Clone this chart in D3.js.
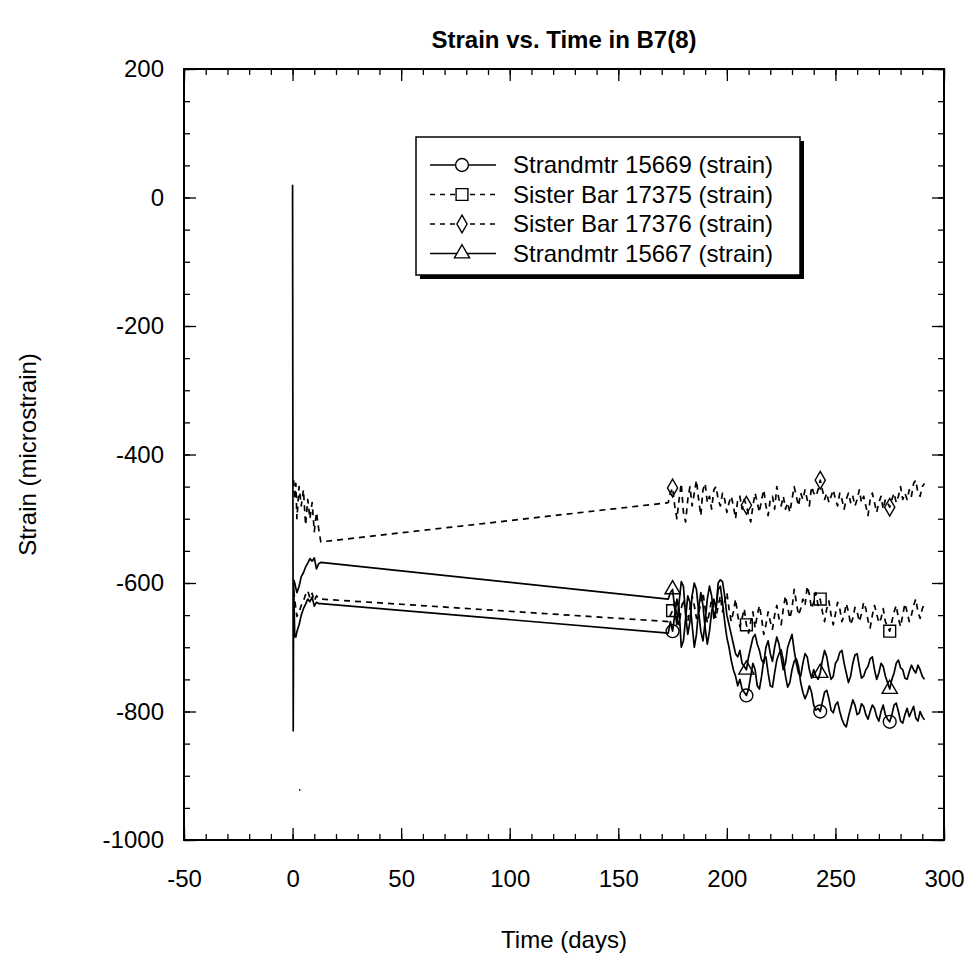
<!DOCTYPE html>
<html>
<head>
<meta charset="utf-8">
<script src="https://cdn.jsdelivr.net/npm/d3@7"></script>
<style>
  body { margin: 0; background: #fff; }
  text { font-family: Arial, "Liberation Sans", sans-serif; fill: #000; }
</style>
</head>
<body>
<svg id="chart" width="976" height="976"></svg>
<script>
// ---- data ----
var xTicks = [-50, 0, 50, 100, 150, 200, 250, 300];
var yTicks = [-1000, -800, -600, -400, -200, 0, 200];
var seriesNames = ["Strandmtr 15669 (strain)", "Sister Bar 17375 (strain)",
                   "Sister Bar 17376 (strain)", "Strandmtr 15667 (strain)"];

// initial spike at day 0 (strandmeter 15669)
var spikeDays = [0, 0.3];
var spikeVals = [20, -830];

// stray reading near day 3
var strayDays = [3.0, 3.6];
var strayVals = [-922, -922];

var earlyDays = [0.5, 1, 1.5, 2, 3, 4, 5, 6, 7, 8, 9, 10, 11, 12, 13];
var lateDays = [
  173, 174, 175, 176, 177, 178, 179, 180, 181, 182,
  183, 184, 185, 186, 187, 188, 189, 190, 191, 192,
  193, 194, 195, 196, 197, 198, 199, 200, 201, 202,
  203, 204, 205, 206, 207, 208, 209, 210, 211, 212,
  213, 214, 215, 216, 217, 218, 219, 220, 221, 222,
  223, 224, 225, 226, 227, 228, 229, 230, 231, 232,
  233, 234, 235, 236, 237, 238, 239, 240, 241, 242,
  243, 244, 245, 246, 247, 248, 249, 250, 251, 252,
  253, 254, 255, 256, 257, 258, 259, 260, 261, 262,
  263, 264, 265, 266, 267, 268, 269, 270, 271, 272,
  273, 274, 275, 276, 277, 278, 279, 280, 281, 282,
  283, 284, 285, 286, 287, 288, 289, 290, 291];
var markerDays = [175, 209, 243, 275];

var early15669 = [-600, -684, -684, -676, -665, -650, -640, -633, -625, -629, -622, -636, -630, -632, -632];
var late15669 = [
  -678, -660, -675, -650, -625, -640, -700, -690, -655, -620,
  -630, -665, -700, -680, -640, -615, -635, -670, -695, -675,
  -645, -625, -640, -610, -605, -630, -660, -685, -700, -720,
  -735, -745, -760, -750, -765, -770, -775, -765, -745, -725,
  -735, -760, -765, -745, -720, -715, -740, -760, -762, -740,
  -720, -710, -704, -720, -745, -762, -755, -735, -722, -718,
  -730, -755, -770, -780, -772, -760, -770, -790, -798, -795,
  -800, -785, -770, -767, -780, -798, -802, -790, -785, -800,
  -812, -820, -824, -808, -795, -782, -790, -805, -802, -788,
  -792, -805, -812, -800, -790, -795, -808, -815, -800, -790,
  -805, -812, -816, -805, -790, -787, -800, -815, -818, -805,
  -795, -808, -800, -792, -810, -815, -800, -808, -813];

var early17375 = [-612, -625, -640, -652, -645, -635, -628, -618, -612, -624, -616, -628, -620, -624, -625];
var late17375 = [
  -660, -650, -643, -630, -655, -665, -640, -625, -645, -660,
  -640, -620, -635, -655, -648, -630, -615, -640, -662, -645,
  -625, -640, -655, -635, -620, -645, -630, -615, -640, -660,
  -645, -625, -650, -668, -655, -640, -665, -678, -660, -645,
  -670, -650, -635, -655, -680, -665, -645, -660, -672, -650,
  -635, -655, -665, -640, -620, -638, -655, -640, -610, -630,
  -650, -640, -625, -635, -605, -618, -640, -630, -615, -635,
  -625, -645, -660, -640, -628, -650, -665, -648, -630, -640,
  -660, -650, -632, -645, -665, -655, -638, -645, -660, -648,
  -630, -640, -658, -670, -650, -635, -648, -662, -655, -640,
  -660, -668, -675, -660, -645, -635, -655, -668, -650, -632,
  -645, -660, -650, -635, -625, -645, -655, -640, -632];

var early17376 = [-440, -470, -445, -500, -450, -480, -455, -510, -470, -500, -475, -520, -490, -515, -536];
var late17376 = [
  -475, -460, -452, -480, -500, -470, -445, -490, -505, -470,
  -450, -480, -460, -440, -470, -495, -455, -445, -475, -465,
  -485, -455, -450, -470, -480, -460, -470, -490, -475, -465,
  -480, -500, -470, -465, -485, -470, -479, -495, -505, -480,
  -460, -475, -490, -470, -455, -480, -495, -470, -465, -485,
  -450, -470, -480, -465, -485, -475, -490, -470, -450, -465,
  -480, -460, -470, -455, -470, -480, -450, -460, -465, -455,
  -440, -455, -470, -460, -475, -465, -455, -470, -480, -460,
  -470, -485, -470, -460, -475, -465, -480, -470, -455, -475,
  -465, -480, -495, -470, -460, -475, -490, -475, -465, -485,
  -470, -475, -482, -470, -460, -475, -465, -450, -470, -460,
  -470, -455, -465, -445, -440, -460, -465, -450, -445];

var early15667 = [-595, -600, -608, -615, -605, -590, -584, -575, -569, -562, -566, -561, -578, -570, -568];
var late15667 = [
  -625, -615, -610, -640, -665, -630, -598, -605, -650, -680,
  -660, -620, -600, -610, -645, -675, -690, -660, -625, -605,
  -620, -655, -640, -600, -595, -598, -620, -650, -665, -680,
  -695, -710, -715, -705, -725, -730, -735, -715, -700, -685,
  -680, -695, -705, -720, -725, -700, -690, -710, -722, -700,
  -684, -695, -715, -735, -725, -700, -690, -680, -705, -725,
  -740, -745, -725, -710, -715, -735, -748, -735, -745, -750,
  -740, -720, -705, -715, -735, -750, -745, -725, -720, -708,
  -705, -725, -740, -755, -745, -725, -712, -710, -730, -748,
  -745, -735, -730, -718, -715, -735, -750, -740, -725, -730,
  -745, -755, -765, -750, -740, -725, -720, -732, -735, -748,
  -750, -738, -728, -735, -740, -728, -735, -745, -750];

// ---- layout ----
var svg = d3.select("#chart");
var plotL = 184, plotR = 944, plotT = 69, plotB = 840;

var x = d3.scaleLinear().domain([-50, 300]).range([plotL, plotR]);
var y = d3.scaleLinear().domain([-1000, 200]).range([plotB, plotT]);

function zip(days, vals) {
    return days.map(function (d, i) { return [d, vals[i]]; });
}

var series = [
    { name: seriesNames[0], dash: null, symbol: d3.symbolCircle, size: 130,
      points: zip(spikeDays.concat(earlyDays, lateDays), spikeVals.concat(early15669, late15669)) },
    { name: seriesNames[1], dash: "6,5", symbol: d3.symbolSquare, size: 140,
      points: zip(earlyDays.concat(lateDays), early17375.concat(late17375)) },
    { name: seriesNames[2], dash: "6,5", symbol: d3.symbolDiamond, size: 90,
      points: zip(earlyDays.concat(lateDays), early17376.concat(late17376)) },
    { name: seriesNames[3], dash: null, symbol: d3.symbolTriangle, size: 100,
      points: zip(earlyDays.concat(lateDays), early15667.concat(late15667)) }
];

var line = d3.line()
    .x(function (d) { return x(d[0]); })
    .y(function (d) { return y(d[1]); });

// plain hyphen minus like the original
var fmt = function (d) { return String(d); };

// title
svg.append("text")
    .attr("x", (plotL + plotR) / 2)
    .attr("y", 48)
    .attr("text-anchor", "middle")
    .style("font-size", "24px")
    .style("font-weight", "bold")
    .text("Strain vs. Time in B7(8)");

// axis labels
svg.append("text")
    .attr("x", (plotL + plotR) / 2)
    .attr("y", 948)
    .attr("text-anchor", "middle")
    .style("font-size", "24px")
    .text("Time (days)");

svg.append("text")
    .attr("transform", "translate(36," + (plotT + plotB) / 2 + ") rotate(-90)")
    .attr("text-anchor", "middle")
    .style("font-size", "24px")
    .text("Strain (microstrain)");

// minor ticks
var xMinor = d3.range(-50, 301, 10);
var yMinor = d3.range(-1000, 201, 50);

function styleAxis(g) {
    g.select(".domain").remove();
    g.selectAll("line").attr("stroke", "#000").attr("stroke-width", 1.3);
    g.selectAll("text").style("font-size", "24px").style("font-family", "Arial, 'Liberation Sans', sans-serif");
}

svg.append("g").attr("transform", "translate(0," + plotB + ")")
    .call(d3.axisBottom(x).tickValues(xMinor).tickSize(-6).tickFormat("")).call(styleAxis);
svg.append("g").attr("transform", "translate(0," + plotT + ")")
    .call(d3.axisTop(x).tickValues(xMinor).tickSize(-6).tickFormat("")).call(styleAxis);
svg.append("g").attr("transform", "translate(" + plotL + ",0)")
    .call(d3.axisLeft(y).tickValues(yMinor).tickSize(-6).tickFormat("")).call(styleAxis);
svg.append("g").attr("transform", "translate(" + plotR + ",0)")
    .call(d3.axisRight(y).tickValues(yMinor).tickSize(-6).tickFormat("")).call(styleAxis);

// major ticks + labels
svg.append("g").attr("transform", "translate(0," + plotB + ")")
    .call(d3.axisBottom(x).tickValues(xTicks).tickSize(-12).tickPadding(30).tickFormat(fmt))
    .call(styleAxis);
svg.append("g").attr("transform", "translate(0," + plotT + ")")
    .call(d3.axisTop(x).tickValues(xTicks).tickSize(-12).tickFormat("")).call(styleAxis);
svg.append("g").attr("transform", "translate(" + plotL + ",0)")
    .call(d3.axisLeft(y).tickValues(yTicks).tickSize(-12).tickPadding(20).tickFormat(fmt))
    .call(styleAxis);
svg.append("g").attr("transform", "translate(" + plotR + ",0)")
    .call(d3.axisRight(y).tickValues(yTicks).tickSize(-12).tickFormat("")).call(styleAxis);

// frame
svg.append("rect")
    .attr("x", plotL).attr("y", plotT)
    .attr("width", plotR - plotL).attr("height", plotB - plotT)
    .attr("fill", "none").attr("stroke", "#000").attr("stroke-width", 2);

// data lines
series.forEach(function (s) {
    svg.append("path")
        .datum(s.points)
        .attr("fill", "none")
        .attr("stroke", "#000")
        .attr("stroke-width", 1.7)
        .attr("stroke-linejoin", "round")
        .attr("stroke-dasharray", s.dash)
        .attr("d", line);

    svg.selectAll(null)
        .data(s.points.filter(function (p) { return markerDays.indexOf(p[0]) >= 0; }))
        .enter()
        .append("path")
        .attr("transform", function (d) { return "translate(" + x(d[0]) + "," + y(d[1]) + ")"; })
        .attr("d", d3.symbol().type(s.symbol).size(s.size))
        .attr("fill", "none")
        .attr("stroke", "#000")
        .attr("stroke-width", 1.4);
});

// stray reading
svg.append("path")
    .datum(zip(strayDays, strayVals))
    .attr("fill", "none")
    .attr("stroke", "#000")
    .attr("stroke-width", 1.6)
    .attr("d", line);

// legend
var lgX = 416, lgY = 137, lgW = 384, lgH = 138;
svg.append("rect")
    .attr("x", lgX + 4).attr("y", lgY + 4)
    .attr("width", lgW).attr("height", lgH)
    .attr("fill", "#000");
svg.append("rect")
    .attr("x", lgX).attr("y", lgY)
    .attr("width", lgW).attr("height", lgH)
    .attr("fill", "#fff").attr("stroke", "#000").attr("stroke-width", 1.5);

var legend = svg.selectAll(".legend")
    .data(series)
    .enter()
    .append("g")
    .attr("class", "legend")
    .attr("transform", function (d, i) { return "translate(0," + (165 + i * 29.5) + ")"; });

legend.append("line")
    .attr("x1", 430).attr("x2", 496)
    .attr("stroke", "#000").attr("stroke-width", 1.5)
    .attr("stroke-dasharray", function (d) { return d.dash ? "5,5" : null; });

legend.append("path")
    .attr("transform", "translate(462,0)")
    .attr("d", function (d) { return d3.symbol().type(d.symbol).size(d.size)(); })
    .attr("fill", "#fff")
    .attr("stroke", "#000")
    .attr("stroke-width", 1.4);

legend.append("text")
    .attr("x", 513)
    .attr("dy", "0.35em")
    .style("font-size", "24px")
    .text(function (d) { return d.name; });
</script>
</body>
</html>
